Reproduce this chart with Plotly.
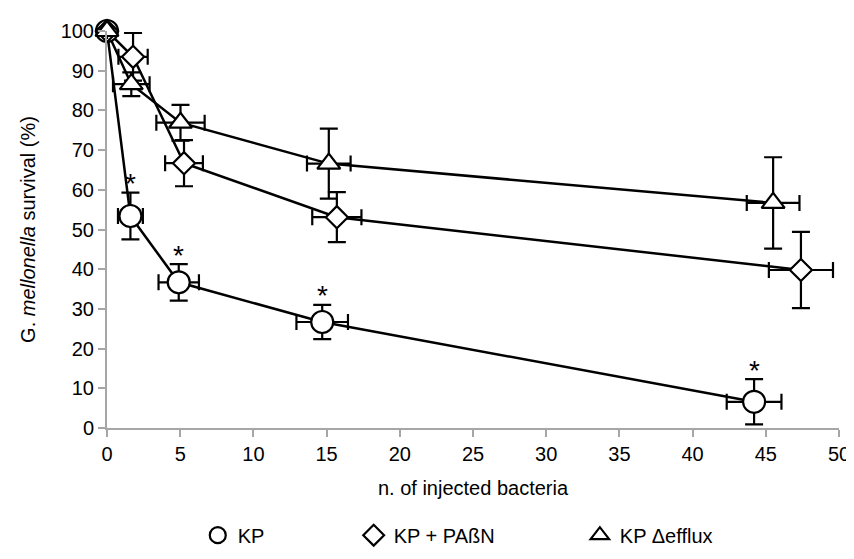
import plotly.graph_objects as go

# ---- data ----
series_names = ["KP", "KP + PAßN", "KP Δefflux"]

kp_x = [0, 1.6, 4.9, 14.7, 44.2]
kp_y = [100, 53.4, 36.7, 26.7, 6.6]
kp_xerr = [0, 0.85, 1.38, 1.76, 1.87]
kp_yerr = [0, 5.9, 4.6, 4.3, 5.7]

pa_x = [0, 1.78, 5.26, 15.7, 47.4]
pa_y = [100, 93.5, 66.7, 53.1, 39.8]
pa_xerr = [0, 1.0, 1.29, 1.68, 2.19]
pa_yerr = [0, 6.0, 5.8, 6.3, 9.6]

ef_x = [0, 1.66, 5.02, 15.15, 45.5]
ef_y = [100, 86.6, 76.9, 66.6, 56.7]
ef_xerr = [0, 1.25, 1.65, 1.49, 1.8]
ef_yerr = [0, 3.0, 4.5, 8.8, 11.5]

# significance markers (on KP, points 2-5)
star_x = kp_x[1:]
star_top = [y + e for y, e in zip(kp_y[1:], kp_yerr[1:])]

x_ticks = list(range(0, 51, 5))
y_ticks = list(range(0, 101, 10))

FONT = "Liberation Sans, Arial, sans-serif"
fig = go.Figure()

datasets = [
    (kp_x, kp_y, kp_xerr, kp_yerr, "circle", 22),
    (pa_x, pa_y, pa_xerr, pa_yerr, "diamond", 17),
    (ef_x, ef_y, ef_xerr, ef_yerr, "triangle-up", 20),
]
legends = ["legend", "legend2", "legend3"]

for i, (xs, ys, xe, ye, sym, sz) in enumerate(datasets):
    fig.add_trace(go.Scatter(
        x=xs, y=ys, mode="lines", line=dict(color="black", width=2.5),
        showlegend=False, hoverinfo="skip", cliponaxis=False,
    ))
for i, (xs, ys, xe, ye, sym, sz) in enumerate(datasets):
    fig.add_trace(go.Scatter(
        x=xs, y=ys, mode="markers", name=series_names[i],
        marker=dict(symbol=sym, size=sz, color="white",
                    line=dict(color="black", width=2.2)),
        error_x=dict(type="data", array=xe, visible=True, color="black",
                     thickness=2.2, width=8),
        error_y=dict(type="data", array=ye, visible=True, color="black",
                     thickness=2.2, width=9),
        cliponaxis=False, legend=legends[i],
    ))

for sx, st in zip(star_x, star_top):
    fig.add_annotation(x=sx, y=st, text="*", showarrow=False,
                       xanchor="center", yanchor="middle", yshift=9,
                       font=dict(size=28, color="black", family=FONT))

axis_common = dict(
    showgrid=False, zeroline=False, showline=True, linecolor="#a6a6a6",
    linewidth=2, ticks="outside", tickcolor="#a6a6a6", tickwidth=2,
    ticklen=7, tickfont=dict(size=20, color="black", family=FONT),
)

fig.update_xaxes(range=[0, 50], tickvals=x_ticks, **axis_common,
                 title=dict(text="n. of injected bacteria", standoff=17,
                            font=dict(size=20, color="black", family=FONT)))
fig.update_yaxes(range=[0, 100], tickvals=y_ticks, **axis_common,
                 title=dict(text="G. <i>mellonella</i> survival (%)", standoff=20,
                            font=dict(size=20, color="black", family=FONT)))

leg_common = dict(orientation="h", yanchor="middle", y=-0.27, xanchor="left",
                  font=dict(size=20, color="black", family=FONT),
                  bgcolor="rgba(0,0,0,0)")
fig.update_layout(
    width=854, height=559,
    margin=dict(l=99, r=23, t=23, b=123),
    plot_bgcolor="white", paper_bgcolor="white",
    legend=dict(x=0.124, **leg_common),
    legend2=dict(x=0.337, **leg_common),
    legend3=dict(x=0.646, **leg_common),
)

fig.write_html("out.html")
